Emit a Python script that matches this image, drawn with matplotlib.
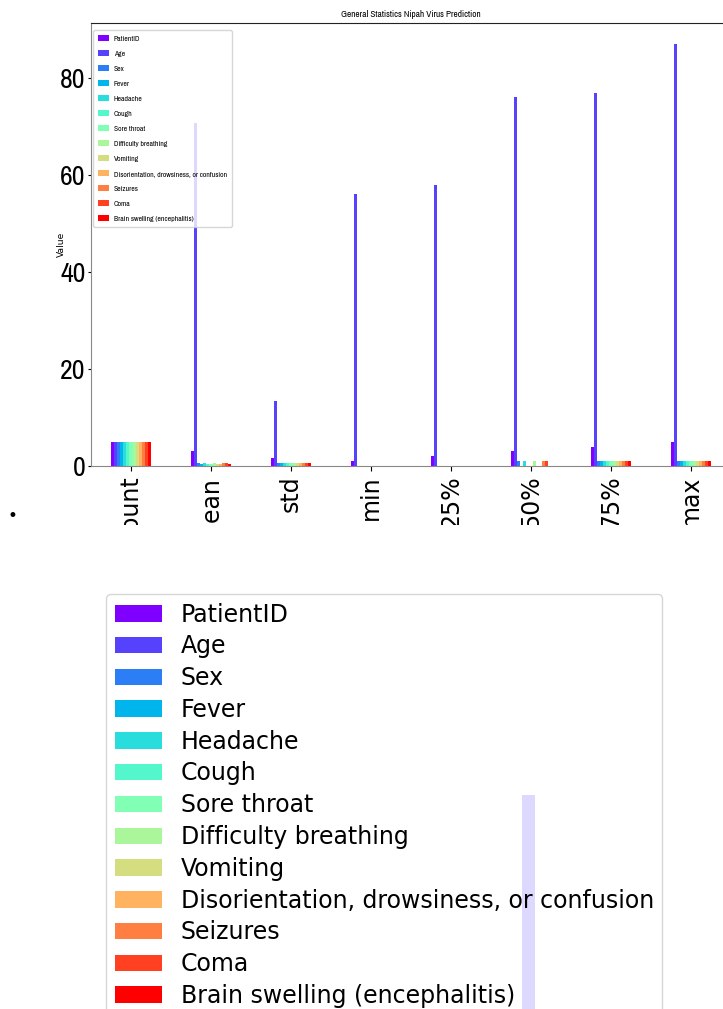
import numpy as np
import matplotlib
matplotlib.use('Agg')
import matplotlib.pyplot as plt
from matplotlib.transforms import Bbox, TransformedBbox


STATS = ['count', 'mean', 'std', 'min', '25%', '50%', '75%', 'max']
COLUMNS = ['PatientID', 'Age', 'Sex', 'Fever', 'Headache', 'Cough', 'Sore throat',
           'Difficulty breathing', 'Vomiting', 'Disorientation, drowsiness, or confusion',
           'Seizures', 'Coma', 'Brain swelling (encephalitis)']

# df.describe() values, one list per column: count, mean, std, min, 25%, 50%, 75%, max
patient_id = [5, 3.0, 1.58, 1, 2, 3, 4, 5]
age = [5, 70.8, 13.33, 56, 58, 76, 77, 87]
sex = [5, 0.6, 0.55, 0, 0, 1, 1, 1]
fever = [5, 0.4, 0.55, 0, 0, 0, 1, 1]
headache = [5, 0.6, 0.55, 0, 0, 1, 1, 1]
cough = [5, 0.4, 0.55, 0, 0, 0, 1, 1]
sore_throat = [5, 0.4, 0.55, 0, 0, 0, 1, 1]
difficulty_breathing = [5, 0.6, 0.55, 0, 0, 1, 1, 1]
vomiting = [5, 0.4, 0.55, 0, 0, 0, 1, 1]
disorientation = [5, 0.4, 0.55, 0, 0, 0, 1, 1]
seizures = [5, 0.6, 0.55, 0, 0, 1, 1, 1]
coma = [5, 0.6, 0.55, 0, 0, 1, 1, 1]
brain_swelling = [5, 0.4, 0.55, 0, 0, 0, 1, 1]

SERIES = [patient_id, age, sex, fever, headache, cough, sore_throat,
          difficulty_breathing, vomiting, disorientation, seizures, coma, brain_swelling]

NARROW = ['Archivo Narrow', 'Liberation Sans Narrow', 'Liberation Sans']
W, H = 723, 1009


def draw_bars(ax):
    n = len(COLUMNS)
    w = 0.5 / n
    x = np.arange(len(STATS))
    colors = plt.cm.rainbow(np.linspace(0, 1, n))
    for i, (name, vals) in enumerate(zip(COLUMNS, SERIES)):
        ax.bar(x - 0.25 + (i + 0.5) * w, vals, width=w, color=colors[i], label=name)
    return x


fig = plt.figure(figsize=(W / 100, H / 100), dpi=100)

# main chart (squeezed look)
ax1 = fig.add_axes([91 / W, 1 - 466 / H, 640 / W, 443 / H])
x = draw_bars(ax1)
ax1.set_xlim(-0.5, 7.5)
ax1.set_xticks(x, STATS, rotation=90, fontsize=17)
ax1.set_yticks([0, 20, 40, 60, 80])
ax1.tick_params(axis='y', labelsize=20, length=2.5, pad=1.5)
for t in ax1.get_yticklabels():
    t.set_fontfamily(NARROW)
ax1.set_title('General Statistics Nipah Virus Prediction', fontsize=6.7,
              family=NARROW, pad=4)
ax1.set_ylabel('Value', fontsize=6.6)
ax1.yaxis.set_label_coords(-0.039, 0.5)
ax1.spines['top'].set_color('#222')
for s in ['left', 'bottom']:
    ax1.spines[s].set_color('#888')

# labels are cut off by the notebook cell
clip = TransformedBbox(Bbox([[0, 484 / H], [1, 1]]), fig.transFigure)
for t in ax1.get_xticklabels():
    t.set_clip_box(clip)
    t.set_clip_on(True)

ax1.legend(loc='upper left', bbox_to_anchor=(93 / W, 1 - 30 / H),
           bbox_transform=fig.transFigure, borderaxespad=0,
           prop={'family': NARROW, 'size': 5.5}, handlelength=1.45,
           handleheight=0.85, handletextpad=0.6, labelspacing=1.09, borderpad=0.65)

fig.text(12 / W, 1 - 516 / H, '\u2022', fontsize=12, ha='center', va='center')

# zoomed view of the legend corner
ax2 = fig.add_axes([0, 0, 1, 469 / H])
draw_bars(ax2)
ax2.set_xlim(-0.811, 1.404)
ax2.set_ylim(49.8, 95.9)
ax2.axis('off')
ax2.legend(loc='upper left', bbox_to_anchor=(106 / W, 1 - 594 / H),
           bbox_transform=fig.transFigure, borderaxespad=0, fontsize=17,
           handlelength=2.0, handletextpad=0.8, labelspacing=0.33, borderpad=0.36)

fig.savefig('out.png', dpi=100)
